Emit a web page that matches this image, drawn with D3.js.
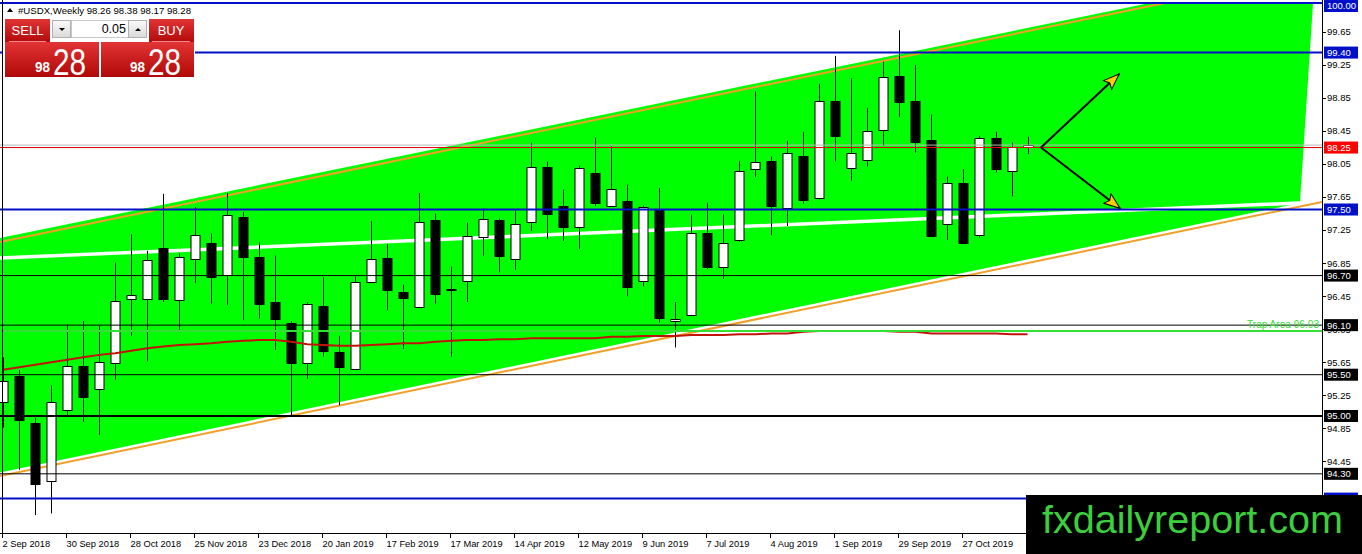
<!DOCTYPE html>
<html><head><meta charset="utf-8">
<script src="https://cdn.jsdelivr.net/npm/d3@7"></script>
<style>html,body{margin:0;padding:0;background:#fff;overflow:hidden}svg{display:block;font-family:"Liberation Sans",Arial,sans-serif}</style>
</head><body><svg id="c" width="1362" height="554"></svg>
<script>
// ---- data ----
const symbolTitle = "#USDX,Weekly";
const headerOHLC = [98.26, 98.38, 98.17, 98.28];
const opens  = [95.17,95.49,94.91,94.21,95.08,95.61,95.32,95.64,96.42,96.42,97.03,96.40,96.90,97.10,96.70,97.41,96.92,96.38,96.13,95.63,96.33,95.77,95.57,96.62,96.91,96.50,96.32,97.37,96.53,96.63,97.16,97.37,96.91,97.36,98.01,97.54,97.29,97.94,97.55,97.60,96.63,97.49,96.15,96.23,97.21,96.81,97.13,97.99,98.09,97.51,98.15,97.63,98.81,98.00,98.10,98.46,99.12,98.81,98.34,97.32,97.82,97.20,98.36,97.97,98.26];
const highs  = [95.71,95.56,94.98,95.37,96.11,96.15,96.09,96.86,97.20,97.00,97.69,96.97,97.53,97.21,97.70,97.47,97.10,96.94,96.15,96.38,96.68,95.97,96.69,97.36,97.08,96.59,97.70,97.45,96.81,97.34,97.51,97.39,97.49,98.31,98.08,97.74,98.03,98.37,98.27,97.80,97.55,97.76,96.38,97.44,97.58,97.44,98.09,98.93,98.14,98.33,98.44,99.02,99.36,99.09,98.73,99.29,99.67,99.25,98.65,97.90,97.99,98.39,98.44,98.31,98.38];
const lows   = [94.86,94.35,93.80,93.82,94.99,94.93,94.77,95.44,95.97,95.66,96.38,96.04,96.61,96.36,96.34,96.16,96.18,95.80,95.01,95.45,95.72,95.13,95.56,96.61,96.28,95.81,96.31,96.36,95.72,96.38,96.94,96.74,96.77,97.24,97.14,97.12,97.02,97.54,97.53,96.45,96.57,96.13,95.83,96.22,96.78,96.66,97.11,97.89,97.19,97.30,97.57,97.62,98.08,97.85,98.02,98.27,98.62,98.19,97.17,97.13,97.08,97.16,97.95,97.66,98.17];
const closes = [95.42,94.96,94.17,95.17,95.61,95.23,95.65,96.39,96.47,96.89,96.41,96.92,97.19,96.69,97.43,96.93,96.35,96.18,95.65,96.35,95.78,95.59,96.62,96.90,96.52,96.43,97.35,96.47,96.54,97.18,97.38,96.93,97.33,98.02,97.44,97.29,98.00,97.58,97.75,96.56,97.53,96.18,96.18,97.22,96.80,97.10,97.97,98.07,97.55,98.18,97.62,98.81,98.39,98.18,98.45,99.10,98.81,98.31,97.18,97.82,97.09,98.37,97.98,98.26,98.28];
const maValues = [95.56,95.59,95.62,95.65,95.68,95.71,95.74,95.76,95.79,95.82,95.84,95.86,95.87,95.88,95.90,95.91,95.92,95.92,95.90,95.87,95.86,95.85,95.85,95.86,95.87,95.88,95.88,95.90,95.91,95.92,95.92,95.93,95.93,95.94,95.94,95.94,95.94,95.94,95.96,95.96,95.97,95.97,95.97,95.98,95.98,95.98,95.99,95.99,96.00,96.00,96.02,96.03,96.03,96.03,96.03,96.03,96.02,96.02,96.00,96.00,96.00,96.00,96.00,95.99,95.99];
const dateLabels = ["2 Sep 2018","30 Sep 2018","28 Oct 2018","25 Nov 2018","23 Dec 2018","20 Jan 2019","17 Feb 2019","17 Mar 2019","14 Apr 2019","12 May 2019","9 Jun 2019","7 Jul 2019","4 Aug 2019","1 Sep 2019","29 Sep 2019","27 Oct 2019"];
const barsPerLabel = 4;
const priceTicks = [99.65,99.25,98.85,98.45,98.05,97.65,97.25,96.85,96.45,96.05,95.65,95.25,94.85,94.45];
const blueLevels = [100.00, 99.40, 97.50, 94.00];
const blackLevels = [96.70, 96.10, 95.50, 95.00, 94.30];
const heavyLevel = 95.00;
const redLevel = 98.25;
const bidPrice = 98.28;
const trapLevel = 96.03;
const trapText = "Trap Area   96.03";
// channel geometry in (bar index, price)
const channelFill = [[-0.2,97.155],[71.65,100],[81.84,100],[81.02,97.579],[-0.2,94.316]];
const channelUpper = [[-0.2,97.107],[72.59,100]];
const channelLower = [[-0.2,94.274],[82.4,97.591]];
const channelMid = [[-0.2,96.913],[82.4,97.591]];
const arrowOrigin = [64.84, 98.25];
const arrowTips = [[69.73,99.14],[69.78,97.515]];
const lotSize = "0.05";
const priceBig = "98", pricePips = "28";
const logoText = "fxdailyreport.com";

// ---- scales ----
const W = 1362, H = 554, plotR = 1322, plotB = 533;
const svg = d3.select("#c");
const x = d3.scaleLinear().domain([-0.2, 82.4]).range([0, plotR]);
const y = d3.scaleLinear().domain([100, 94]).range([3, 498.6]);
const line = d3.line().x(d => x(d[0])).y(d => y(d[1]));

const defs = svg.append("defs");
defs.append("clipPath").attr("id","plot").append("rect").attr("x",0).attr("y",0).attr("width",plotR).attr("height",plotB);
const rg = defs.append("linearGradient").attr("id","redg").attr("x1",0).attr("y1",0).attr("x2",0).attr("y2",1);
rg.append("stop").attr("offset","0%").attr("stop-color","#e23434");
rg.append("stop").attr("offset","100%").attr("stop-color","#b00808");
const gg = defs.append("linearGradient").attr("id","grayg").attr("x1",0).attr("y1",0).attr("x2",0).attr("y2",1);
gg.append("stop").attr("offset","0%").attr("stop-color","#fbfbfb");
gg.append("stop").attr("offset","100%").attr("stop-color","#d9d9d9");
defs.append("marker").attr("id","ah").attr("viewBox","0 0 18 14").attr("refX",17).attr("refY",7)
  .attr("markerWidth",18).attr("markerHeight",14).attr("markerUnits","userSpaceOnUse").attr("orient","auto")
  .append("path").attr("d","M1,1 L17,7 L1,13 L4,7 Z").attr("fill","#ffcc00").attr("stroke","#000").attr("stroke-width",1);

svg.append("rect").attr("width",W).attr("height",H).attr("fill","#fff");
const g = svg.append("g").attr("clip-path","url(#plot)");

// channel
g.append("path").attr("d", line(channelFill) + "Z").attr("fill","#00ff00");
g.append("path").attr("d", line(channelMid)).attr("stroke","#fff").attr("stroke-width",3.5).attr("fill","none");
g.append("path").attr("d", line(channelUpper)).attr("stroke","#f0a028").attr("stroke-width",2).attr("fill","none");
g.append("path").attr("d", line(channelLower)).attr("stroke","#f0a028").attr("stroke-width",2).attr("fill","none");

// candles
const idx = d3.range(opens.length);
const cg = g.append("g");
cg.selectAll("line.w").data(idx).join("line")
  .attr("x1", i => Math.round(x(i))+0.5).attr("x2", i => Math.round(x(i))+0.5)
  .attr("y1", i => y(highs[i])).attr("y2", i => y(lows[i]))
  .attr("stroke","#000").attr("stroke-width",1);
cg.selectAll("rect.b").data(idx).join("rect")
  .attr("x", i => Math.round(x(i))-4).attr("width", 9)
  .attr("y", i => Math.round(y(Math.max(opens[i],closes[i])))+0.5)
  .attr("height", i => Math.max(1, Math.round(Math.abs(y(opens[i])-y(closes[i])))))
  .attr("fill", i => closes[i] >= opens[i] ? "#fff" : "#000")
  .attr("stroke","#000").attr("stroke-width",1);

// level lines
const hline = (p, col, w) => g.append("line").attr("x1",0).attr("x2",plotR)
  .attr("y1", y(p)).attr("y2", y(p)).attr("stroke",col).attr("stroke-width",w);
blackLevels.forEach(p => hline(p, "#000", p === heavyLevel ? 2 : 1));
blueLevels.forEach(p => hline(p, "#0010c8", 2));
hline(bidPrice, "#b8b8b8", 1);
hline(redLevel, "#e00000", 1);

// moving average
g.append("path").datum(maValues).attr("d", d3.line().x((d,i)=>x(i)).y(d=>y(d)))
  .attr("fill","none").attr("stroke","#c01408").attr("stroke-width",2);
// trap line
hline(trapLevel, "#33e033", 2);
g.append("text").attr("x", plotR-3).attr("y", y(trapLevel)-2.5).attr("text-anchor","end")
  .attr("font-size",10).attr("fill","#33dd33")
  .attr("textLength",72).attr("lengthAdjust","spacingAndGlyphs").text(trapText);

// arrows
arrowTips.forEach(t => {
  g.append("line").attr("x1", x(arrowOrigin[0])).attr("y1", y(arrowOrigin[1]))
    .attr("x2", x(t[0])).attr("y2", y(t[1])).attr("stroke","#000").attr("stroke-width",2)
    .attr("marker-end","url(#ah)");
});

// left border
svg.append("line").attr("x1",2.5).attr("x2",2.5).attr("y1",0).attr("y2",plotB).attr("stroke","#000");

// right axis
svg.append("line").attr("x1",plotR+0.5).attr("x2",plotR+0.5).attr("y1",0).attr("y2",plotB).attr("stroke","#000");
const ra = svg.append("g");
priceTicks.forEach(p => {
  ra.append("line").attr("x1",plotR).attr("x2",plotR+4).attr("y1",Math.round(y(p))+0.5).attr("y2",Math.round(y(p))+0.5).attr("stroke","#000");
  ra.append("text").attr("x",plotR+5).attr("y",y(p)).attr("dy","0.35em").attr("font-size",9.5).attr("fill","#000").text(p.toFixed(2));
});
const lvlLabel = (p, col) => {
  const top = Math.max(0, y(p)-6);
  ra.append("rect").attr("x",plotR+2).attr("y",top).attr("width",34).attr("height",12).attr("fill",col);
  ra.append("text").attr("x",plotR+5).attr("y",top+6).attr("dy","0.36em").attr("font-size",9.5).attr("fill","#fff").text(p.toFixed(2));
};
blackLevels.forEach(p => lvlLabel(p, "#000"));
blueLevels.forEach(p => lvlLabel(p, "#0010c8"));
lvlLabel(redLevel, "#ff0000");

// bottom axis
svg.append("line").attr("x1",0).attr("x2",plotR).attr("y1",plotB+0.5).attr("y2",plotB+0.5).attr("stroke","#000");
dateLabels.forEach((s,k) => {
  const xi = Math.round(x(k*barsPerLabel)) - 0.5;
  svg.append("line").attr("x1",xi).attr("x2",xi).attr("y1",plotB).attr("y2",plotB+5).attr("stroke","#000");
  svg.append("text").attr("x",xi).attr("y",plotB+14).attr("font-size",9.3).attr("fill","#000").text(s);
});

// header
svg.append("path").attr("d","M7,12 L10,8 L13,12 Z").attr("fill","#000");
svg.append("text").attr("x",18).attr("y",14).attr("font-size",9.5).attr("fill","#000")
  .attr("textLength",173).attr("lengthAdjust","spacingAndGlyphs")
  .text(symbolTitle + "  " + headerOHLC.map(v=>v.toFixed(2)).join(" "));

// trade panel
const pnl = svg.append("g");
pnl.append("rect").attr("x",3).attr("y",17).attr("width",192).attr("height",61).attr("fill","#fff");
pnl.append("rect").attr("x",5).attr("y",19).attr("width",45).attr("height",24).attr("fill","url(#redg)");
pnl.append("rect").attr("x",149).attr("y",19).attr("width",45).attr("height",24).attr("fill","url(#redg)");
pnl.append("rect").attr("x",5).attr("y",42).attr("width",94).attr("height",35).attr("fill","url(#redg)");
pnl.append("rect").attr("x",101).attr("y",42).attr("width",93).attr("height",35).attr("fill","url(#redg)");
pnl.append("line").attr("x1",9).attr("x2",46).attr("y1",41.5).attr("y2",41.5).attr("stroke","#f08a8a");
pnl.append("line").attr("x1",152).attr("x2",190).attr("y1",41.5).attr("y2",41.5).attr("stroke","#f08a8a");
pnl.append("rect").attr("x",52.5).attr("y",20.5).attr("width",18).attr("height",17).attr("fill","url(#grayg)").attr("stroke","#b0b0b0");
pnl.append("rect").attr("x",71.5).attr("y",20.5).attr("width",57).attr("height",17).attr("fill","#fff").attr("stroke","#c8c8c8");
pnl.append("rect").attr("x",128.5).attr("y",20.5).attr("width",18).attr("height",17).attr("fill","url(#grayg)").attr("stroke","#b0b0b0");
pnl.append("path").attr("d","M59,28 L65,28 L62,31 Z").attr("fill","#000");
pnl.append("path").attr("d","M135,31 L141,31 L138,28 Z").attr("fill","#000");
pnl.append("text").attr("x",126).attr("y",33).attr("text-anchor","end").attr("font-size",12.5).attr("fill","#000").text(lotSize);
pnl.append("text").attr("x",27.5).attr("y",35).attr("text-anchor","middle").attr("font-size",13).attr("fill","#fff").text("SELL");
pnl.append("text").attr("x",171).attr("y",35).attr("text-anchor","middle").attr("font-size",13).attr("fill","#fff").text("BUY");
[[35,53],[130,148]].forEach(([a,b]) => {
  pnl.append("text").attr("x",a).attr("y",72).attr("font-size",14).attr("font-weight","bold").attr("fill","#fff")
    .attr("textLength",15).attr("lengthAdjust","spacingAndGlyphs").text(priceBig);
  pnl.append("text").attr("x",b).attr("y",74.5).attr("font-size",36).attr("fill","#fff")
    .attr("textLength",33).attr("lengthAdjust","spacingAndGlyphs").text(pricePips);
});

// logo
svg.append("rect").attr("x",1026).attr("y",495).attr("width",336).attr("height",59).attr("fill","#000");
svg.append("text").attr("x",1042).attr("y",533).attr("font-size",39).attr("fill","#3ccf3c")
  .attr("textLength",301).attr("lengthAdjust","spacingAndGlyphs").text(logoText);
</script></body></html>
